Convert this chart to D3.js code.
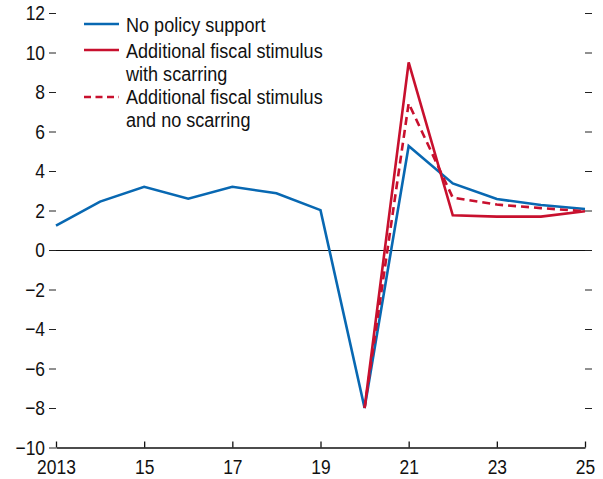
<!DOCTYPE html>
<html><head><meta charset="utf-8">
<script src="https://cdn.jsdelivr.net/npm/d3@7/dist/d3.min.js"></script>
<style>
body{margin:0;background:#fff;}
text{font-family:"Liberation Sans","Arial",sans-serif;fill:#111;}
</style></head>
<body><svg id="c" width="603" height="479"></svg>
<script>
const years = [2013,2014,2015,2016,2017,2018,2019,2020,2021,2022,2023,2024,2025];
const noPolicy = [1.23,2.45,3.2,2.6,3.2,2.87,2.02,-8.0,5.27,3.37,2.58,2.28,2.08];
const scarYears = [2020,2021,2022,2023,2024,2025];
const withScarring = [-8.0,9.5,1.76,1.69,1.69,1.96];
const noScarring = [-8.0,7.43,2.65,2.3,2.12,1.96];
const yTicks = [-10,-8,-6,-4,-2,0,2,4,6,8,10,12];
const xTickYears = [2013,2015,2017,2019,2021,2023,2025];
const xTickLabels = ["2013","15","17","19","21","23","25"];
const legendLabels = [["No policy support"],["Additional fiscal stimulus","with scarring"],["Additional fiscal stimulus","and no scarring"]];

const blue = "#0868b2", red = "#c8102e";
const SX = 0.85;
const svg = d3.select("#c");
const x = d3.scaleLinear().domain([2013,2025]).range([56,585]);
const y = d3.scaleLinear().domain([-10,12]).range([447.5,13]);

const fmt = v => v < 0 ? "\u2212" + Math.abs(v) : String(v);
const left = svg.append("g").attr("transform","translate(56,0)")
  .call(d3.axisLeft(y).tickValues(yTicks).tickSize(7).tickPadding(4).tickFormat(fmt));
left.select(".domain").remove();
left.selectAll("text").style("font-size","20.5px").attr("fill","#111")
  .attr("x", -11/SX).attr("transform","scale("+SX+",1)");
left.selectAll("line").attr("stroke","#222");
const right = svg.append("g").attr("transform","translate(585,0)")
  .call(d3.axisRight(y).tickValues(yTicks.filter(v=>v>-10)).tickSize(7).tickFormat(""));
right.select(".domain").remove();
right.selectAll("line").attr("stroke","#222");

const bottom = svg.append("g").attr("transform","translate(0,"+y(-10)+")")
  .call(d3.axisTop(x).tickValues(xTickYears).tickSize(6).tickSizeOuter(0).tickFormat((d,i)=>xTickLabels[i]));
bottom.select(".domain").attr("stroke","#111").attr("stroke-width",1.4);
bottom.selectAll("line").attr("stroke","#111").attr("stroke-width",1.3);
bottom.selectAll("text").style("font-size","20.5px").attr("fill","#111")
  .attr("y",26.5).attr("dy","0").attr("transform","scale("+SX+",1)");

svg.append("line").attr("x1",x(2013)).attr("x2",x(2025))
  .attr("y1",Math.round(y(0))+0.5).attr("y2",Math.round(y(0))+0.5)
  .attr("stroke","#111").attr("stroke-width",1);

const line = d3.line().x(d=>x(d[0])).y(d=>y(d[1]));
svg.append("path").datum(years.map((d,i)=>[d,noPolicy[i]])).attr("d",line)
  .attr("fill","none").attr("stroke",blue).attr("stroke-width",2.6);
svg.append("path").datum(scarYears.map((d,i)=>[d,noScarring[i]])).attr("d",line)
  .attr("fill","none").attr("stroke",red).attr("stroke-width",2.6).attr("stroke-dasharray","8,5");
svg.append("path").datum(scarYears.map((d,i)=>[d,withScarring[i]])).attr("d",line)
  .attr("fill","none").attr("stroke",red).attr("stroke-width",2.6);

const legY = [24, 50, 97];
const legBase = [[31.5],[57.8,80.8],[104,127]];
const legStyle = [{c:blue,d:null},{c:red,d:null},{c:red,d:"7,4.5"}];
const lg = svg.append("g");
legendLabels.forEach((lines,i)=>{
  lg.append("line").attr("x1",84).attr("x2",119).attr("y1",legY[i]).attr("y2",legY[i])
    .attr("stroke",legStyle[i].c).attr("stroke-width",2.6).attr("stroke-dasharray",legStyle[i].d);
  lines.forEach((t,j)=>{
    lg.append("text").attr("transform","translate(126,"+legBase[i][j]+") scale(0.86,1)")
      .style("font-size","21px").text(t);
  });
});
</script></body></html>
